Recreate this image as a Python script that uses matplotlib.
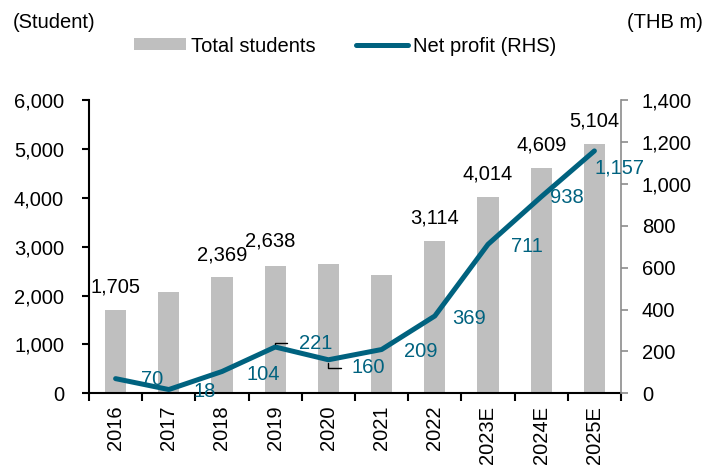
import numpy as np
import matplotlib
matplotlib.use("Agg")
import matplotlib.pyplot as plt
from matplotlib.ticker import FuncFormatter, MultipleLocator

plt.rcParams["font.family"] = ["Liberation Sans", "DejaVu Sans"]
plt.rcParams["font.size"] = 14

years = ["2016", "2017", "2018", "2019", "2020", "2021", "2022", "2023E", "2024E", "2025E"]
students = [1705, 2070, 2369, 2610, 2638, 2430, 3114, 4014, 4609, 5104]
net_profit = [70, 18, 104, 221, 160, 209, 369, 711, 938, 1157]
# which bars carry a value label
bar_label_idx = [0, 2, 4, 6, 7, 8, 9]

BAR = "#BFBFBF"
TEAL = "#00627F"
FS = 14.5

fig = plt.figure(figsize=(7.08, 4.66), dpi=100)
ax = fig.add_axes([89 / 708, 1 - 393.3 / 466, 532 / 708, 293.3 / 466])
ax2 = ax.twinx()

x = np.arange(len(years))
ax.bar(x, students, width=0.4, color=BAR, zorder=1, label="Total students")
ax2.plot(x, net_profit, color=TEAL, lw=3.6, solid_capstyle="round", zorder=3,
         label="Net profit (RHS)")

ax.set_xlim(-0.5, len(years) - 0.5)
ax.set_ylim(0, 6000)
ax2.set_ylim(0, 1400)
ax.yaxis.set_major_locator(MultipleLocator(1000))
ax2.yaxis.set_major_locator(MultipleLocator(200))
ax.yaxis.set_major_formatter(FuncFormatter(lambda v, p: f"{v:,.0f}"))
ax2.yaxis.set_major_formatter(FuncFormatter(lambda v, p: f"{v:,.0f}"))

ax.set_xticks(x)
ax.set_xticklabels(years, rotation=90)
ax.set_xticks(np.arange(-0.5, len(years)), minor=True)
ax.tick_params(axis="x", which="major", length=0, pad=9, labelsize=FS)
ax.tick_params(axis="x", which="minor", length=6, width=1.5, direction="out")
ax.tick_params(axis="y", length=5, width=1.5, labelsize=FS, pad=13)
ax2.tick_params(axis="y", length=5, width=1.2, colors="#8C8C8C", labelcolor="black",
                labelsize=FS, pad=10)

for s in ["top"]:
    ax.spines[s].set_visible(False)
    ax2.spines[s].set_visible(False)
ax.spines["right"].set_visible(False)
ax2.spines["left"].set_visible(False)
ax2.spines["bottom"].set_visible(False)
ax.spines["left"].set_linewidth(1.5)
ax.spines["bottom"].set_linewidth(1.5)
ax2.spines["right"].set_color("#8C8C8C")
ax2.spines["right"].set_linewidth(1.2)

# bar value labels (offsets in px, converted to points)
bar_off = {4: -58}
for i in bar_label_idx:
    dx = bar_off.get(i, 0) * 0.72
    ax.annotate(f"{students[i]:,}", (x[i], students[i]), xytext=(dx, 16.5),
                textcoords="offset points", ha="center", va="center",
                fontsize=FS, color="black", zorder=5)

# line value labels
line_off = [(37, 1), (36, 2), (41, 3), (40, -4), (40, 8), (39, 2), (34, 3),
            (39, 2), (26, 1), (25, 17)]
for i, (dx, dy) in enumerate(line_off):
    kw = {}
    if i in (3, 4):
        kw["arrowprops"] = dict(arrowstyle="-", color="black", lw=1,
                                connectionstyle="angle,angleA=0,angleB=90,rad=0",
                                relpos=(0, 0.5), shrinkA=6, shrinkB=2)
    ax2.annotate(f"{net_profit[i]:,}", (x[i], net_profit[i]),
                 xytext=(dx * 0.72, -dy * 0.72), textcoords="offset points",
                 ha="center", va="center", fontsize=FS, color=TEAL, zorder=6, **kw)

fig.text(13 / 708, 1 - 22 / 466, "(Student)", ha="left", va="center", fontsize=FS)
fig.text(703 / 708, 1 - 22 / 466, "(THB m)", ha="right", va="center", fontsize=FS)

h1, l1 = ax.get_legend_handles_labels()
h2, l2 = ax2.get_legend_handles_labels()
fig.legend(h1 + h2, l1 + l2, loc="center", bbox_to_anchor=(345 / 708, 1 - 46 / 466),
           ncol=2, frameon=False, fontsize=FS, handlelength=2.6, handleheight=0.55,
           handletextpad=0.25, columnspacing=2.0, borderpad=0)

fig.savefig("out.png", dpi=100)
